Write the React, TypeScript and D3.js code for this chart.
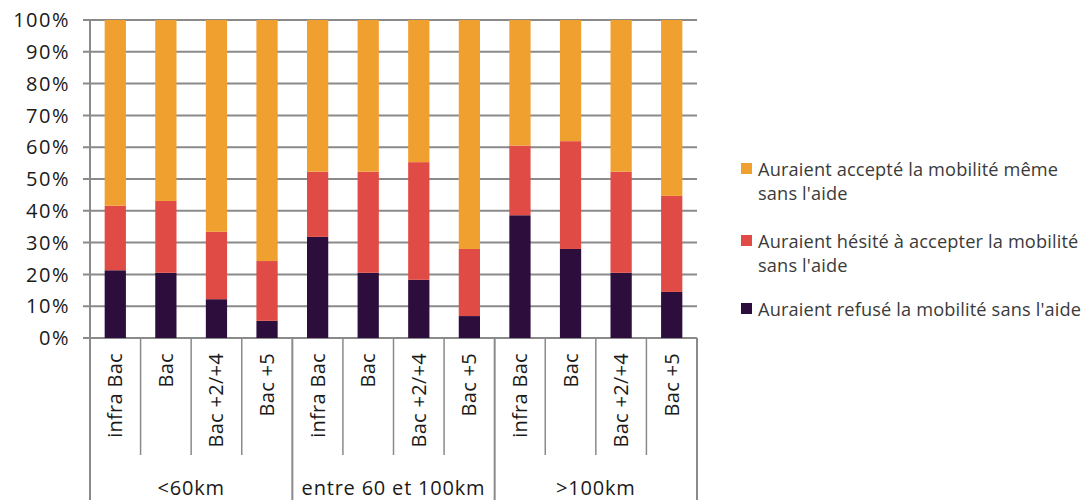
import React from "react";
import * as d3 from "d3";

// Distance bands and diploma levels
const groups = ["<60km", "entre 60 et 100km", ">100km"];
const levels = ["infra Bac", "Bac", "Bac +2/+4", "Bac +5"];

// Shares (%) per bar, in order: 3 distance groups x 4 levels
const refused = [21.3, 20.5, 12.2, 5.4, 31.8, 20.5, 18.3, 6.9, 38.6, 28.0, 20.5, 14.5];
const hesitated = [20.3, 22.6, 21.2, 18.8, 20.5, 31.8, 37.0, 21.1, 21.9, 33.9, 31.8, 30.2];
const accepted = [58.4, 56.9, 66.6, 75.8, 47.7, 47.7, 44.7, 72.0, 39.5, 38.1, 47.7, 55.3];

const yTicks = [0, 10, 20, 30, 40, 50, 60, 70, 80, 90, 100];

const seriesNames = [
  "Auraient refusé la mobilité sans l'aide",
  "Auraient hésité à accepter la mobilité sans l'aide",
  "Auraient accepté la mobilité même sans l'aide",
];
const colors = ["#2d0d3c", "#e04b45", "#f0a02e"];

// Legend entries listed top to bottom, each split in display lines
const legendLines = [
  ["Auraient accepté la mobilité même", "sans l'aide"],
  ["Auraient hésité à accepter la mobilité", "sans l'aide"],
  ["Auraient refusé la mobilité sans l'aide"],
];
const legendColors = [colors[2], colors[1], colors[0]];

const W = 1088;
const H = 500;
const left = 90;
const right = 697;
const top = 20;
const bottom = 338;
const font = "'Open Sans', 'Noto Sans', sans-serif";
const gridColor = "#8a8a8a";
const textColor = "#1a1a1a";

export default function App() {
  const keys = d3.range(groups.length * levels.length).map(String);
  const x = d3.scaleBand().domain(keys).range([left, right]).paddingInner(0.58).paddingOuter(0.29);
  const y = d3.scaleLinear().domain([0, 100]).range([bottom, top]);
  const step = x.step();

  const rows = keys.map((k, i) => ({ key: k, refused: refused[i], hesitated: hesitated[i], accepted: accepted[i] }));
  const stack = d3.stack<any>().keys(["refused", "hesitated", "accepted"]);
  const layers = stack(rows);

  const bandLeft = (i: number) => left + i * step;

  return (
    <svg width={W} height={H} style={{ display: "block", position: "absolute", left: 0, top: 0 }} fontFamily={font}>
      <rect width={W} height={H} fill="#fff" />
      {/* horizontal gridlines with tick stubs */}
      {yTicks.map((t) => (
        <line key={t} x1={left - 7} x2={right} y1={y(t)} y2={y(t)} stroke={gridColor} strokeWidth={2} />
      ))}
      {yTicks.map((t) => (
        <text key={"l" + t} x={70} y={y(t)} dy="0.36em" textAnchor="end" fontSize={20} fill={textColor} letterSpacing={1.5}>
          {t}%
        </text>
      ))}
      {/* stacked bars */}
      {layers.map((layer, li) =>
        layer.map((d, i) => (
          <rect
            key={li + "-" + i}
            x={x(keys[i])}
            width={x.bandwidth()}
            y={y(d[1])}
            height={y(d[0]) - y(d[1])}
            fill={colors[li]}
          >
            <title>{seriesNames[li]}</title>
          </rect>
        ))
      )}
      {/* vertical axis line */}
      <line x1={left} x2={left} y1={top} y2={H} stroke={gridColor} strokeWidth={2} />
      {/* category separators */}
      {d3.range(keys.length + 1).map((i) => (
        <line
          key={"s" + i}
          x1={bandLeft(i)}
          x2={bandLeft(i)}
          y1={bottom}
          y2={i % levels.length === 0 ? H : 455}
          stroke={gridColor}
          strokeWidth={i % levels.length === 0 ? 2 : 1.5}
        />
      ))}
      {/* level labels, rotated */}
      {keys.map((k, i) => {
        const cx = (x(k) as number) + x.bandwidth() / 2;
        return (
          <text
            key={"t" + k}
            transform={`translate(${cx},${353}) rotate(-90)`}
            textAnchor="end"
            dy="0.35em"
            fontSize={20}
            fill={textColor}
            letterSpacing={0.3}
          >
            {levels[i % levels.length]}
          </text>
        );
      })}
      {/* distance group labels */}
      {groups.map((g, gi) => (
        <text
          key={g}
          x={(bandLeft(gi * levels.length) + bandLeft((gi + 1) * levels.length)) / 2}
          y={495}
          textAnchor="middle"
          fontSize={20}
          fill={textColor}
          letterSpacing={0.8}
        >
          {g}
        </text>
      ))}
      {/* legend */}
      {legendLines.map((lines, li) => {
        const baseY = [176, 248, 316][li];
        return (
          <g key={"lg" + li}>
            <rect x={741} y={baseY - 13} width={11} height={11} fill={legendColors[li]} />
            {lines.map((ln, j) => (
              <text key={j} x={758} y={baseY + j * 24} fontSize={18.2} fill="#3a3a3a" letterSpacing={0.15}>
                {ln}
              </text>
            ))}
          </g>
        );
      })}
    </svg>
  );
}
